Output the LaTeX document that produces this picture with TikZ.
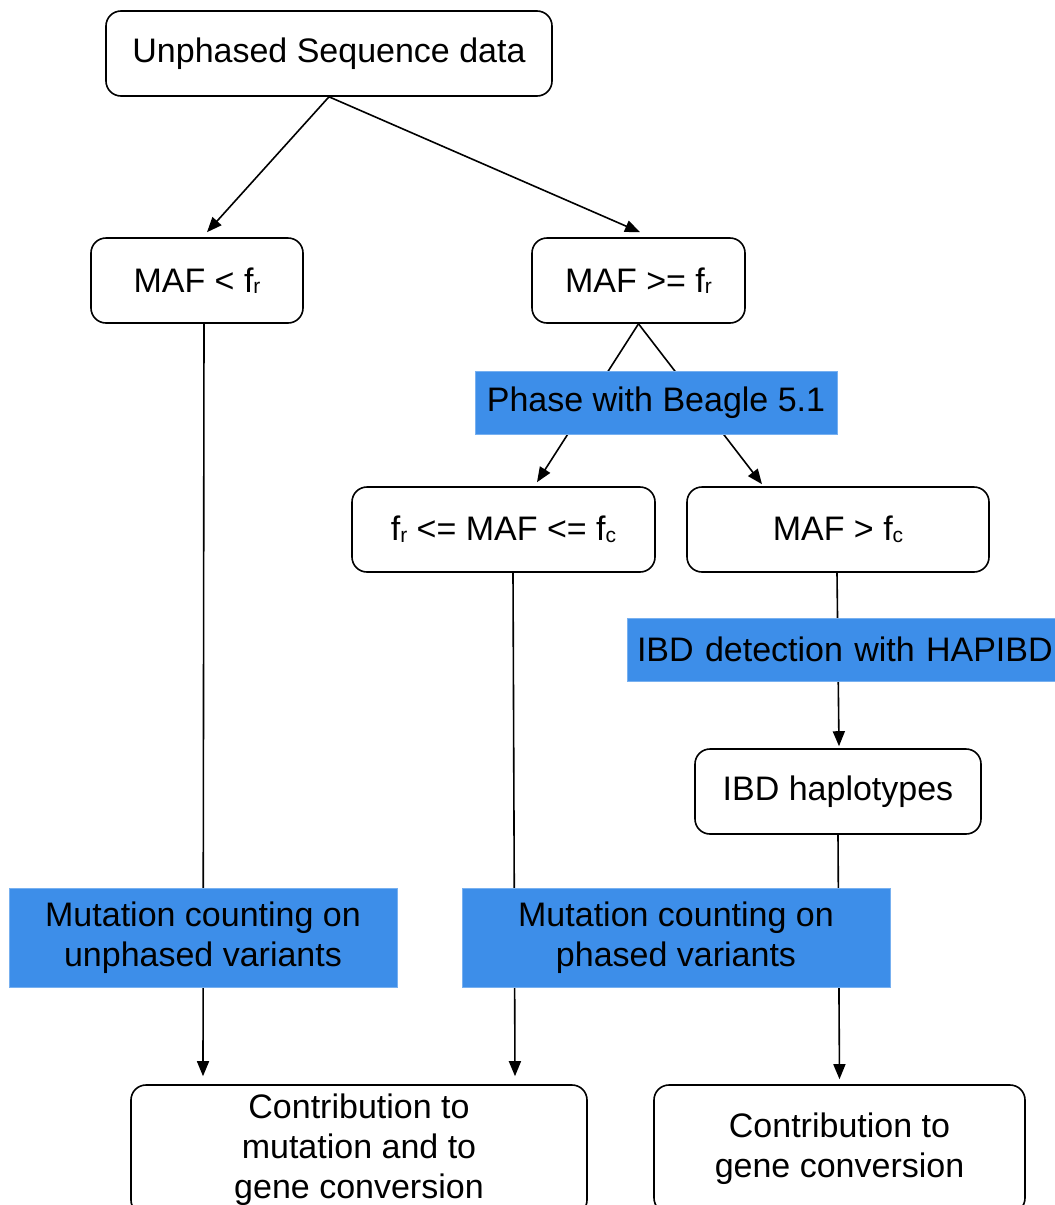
\documentclass[tikz,border=0pt]{standalone}
\usepackage{fontspec}
\setmainfont{Liberation Sans}
\usetikzlibrary{arrows.meta}
\definecolor{stepblue}{RGB}{61,142,233}
% f with a small index letter, as in f_r and f_c
\newcommand{\findex}[1]{f\raisebox{-1.5pt}{\fontsize{21}{21}\selectfont #1}}
\begin{document}
\begin{tikzpicture}[x=1pt,y=-1pt,
  every node/.style={font=\fontsize{34}{40}\selectfont},
  box/.style={draw, line width=1.6pt, rounded corners=15pt, fill=white, align=center, inner sep=0pt},
  bluebox/.style={fill=stepblue, draw=stepblue!70!white, line width=0.8pt, align=center, inner sep=0pt},
  conn/.style={line width=1.6pt},
  arr/.style={conn, -{Triangle[length=15pt,width=12pt]}}
]
\useasboundingbox (0,0) rectangle (1055,1205);
\clip (0,0) rectangle (1055,1205);

% white decision and result boxes
\node[box, minimum width=446pt, minimum height=85pt] (top) at (329,53.5) {Unphased Sequence data};
\node[box, minimum width=212pt, minimum height=85pt] (lt) at (197,280.5) {MAF < \findex{r}};
\node[box, minimum width=213pt, minimum height=85pt] (ge) at (638.5,280.5) {MAF >= \findex{r}};
\node[box, minimum width=303pt, minimum height=85pt] (mid) at (503.5,529.5) {\findex{r} <= MAF <= \findex{c}};
\node[box, minimum width=302pt, minimum height=85pt] (gc) at (838,529.5) {MAF > \findex{c}};
\node[box, minimum width=286pt, minimum height=85pt] (ih) at (838,791.5) {IBD haplotypes};
\node[box, minimum width=456pt, minimum height=130pt] (bl) at (359,1150)
  {Contribution to\\mutation and to\\gene conversion};
\node[box, minimum width=371pt, minimum height=128pt] (br) at (839.5,1149)
  {Contribution to\\gene conversion};

% connectors
\draw[arr] (top.south) -- ([xshift=10pt,yshift=5pt]lt.north);
\draw[arr] (top.south) -- ([xshift=1.5pt,yshift=5pt]ge.north);
\draw[arr] (ge.south) -- ([xshift=33.5pt,yshift=4pt]mid.north);
\draw[arr] (ge.south) -- ([xshift=-76pt,yshift=2pt]gc.north);
\draw[arr] ([xshift=7pt]lt.south) -- ([xshift=-156pt,yshift=8pt]bl.north);
\draw[arr] ([xshift=9.5pt]mid.south) -- ([xshift=156pt,yshift=8pt]bl.north);
\draw[arr] ([xshift=-1pt]gc.south) -- ([xshift=1pt,yshift=2pt]ih.north);
\draw[arr] (ih.south) -- ([yshift=5pt]br.north);

% blue step labels laid over the connectors
\node[bluebox, minimum width=362pt, minimum height=63pt] (phase) at (656,402.5) {Phase with Beagle 5.1};
\node[bluebox, minimum width=430pt, minimum height=63pt, text width=430pt, align=left] (ibd) at (842,649.5) {\hspace*{10pt}IBD detection with HAPIBD};
\node[bluebox, minimum width=388pt, minimum height=99pt] (mcu) at (203,937.5) {Mutation counting on\\unphased variants};
\node[bluebox, minimum width=428pt, minimum height=99pt] (mcp) at (676,937.5) {Mutation counting on\\phased variants};
\end{tikzpicture}
\end{document}
